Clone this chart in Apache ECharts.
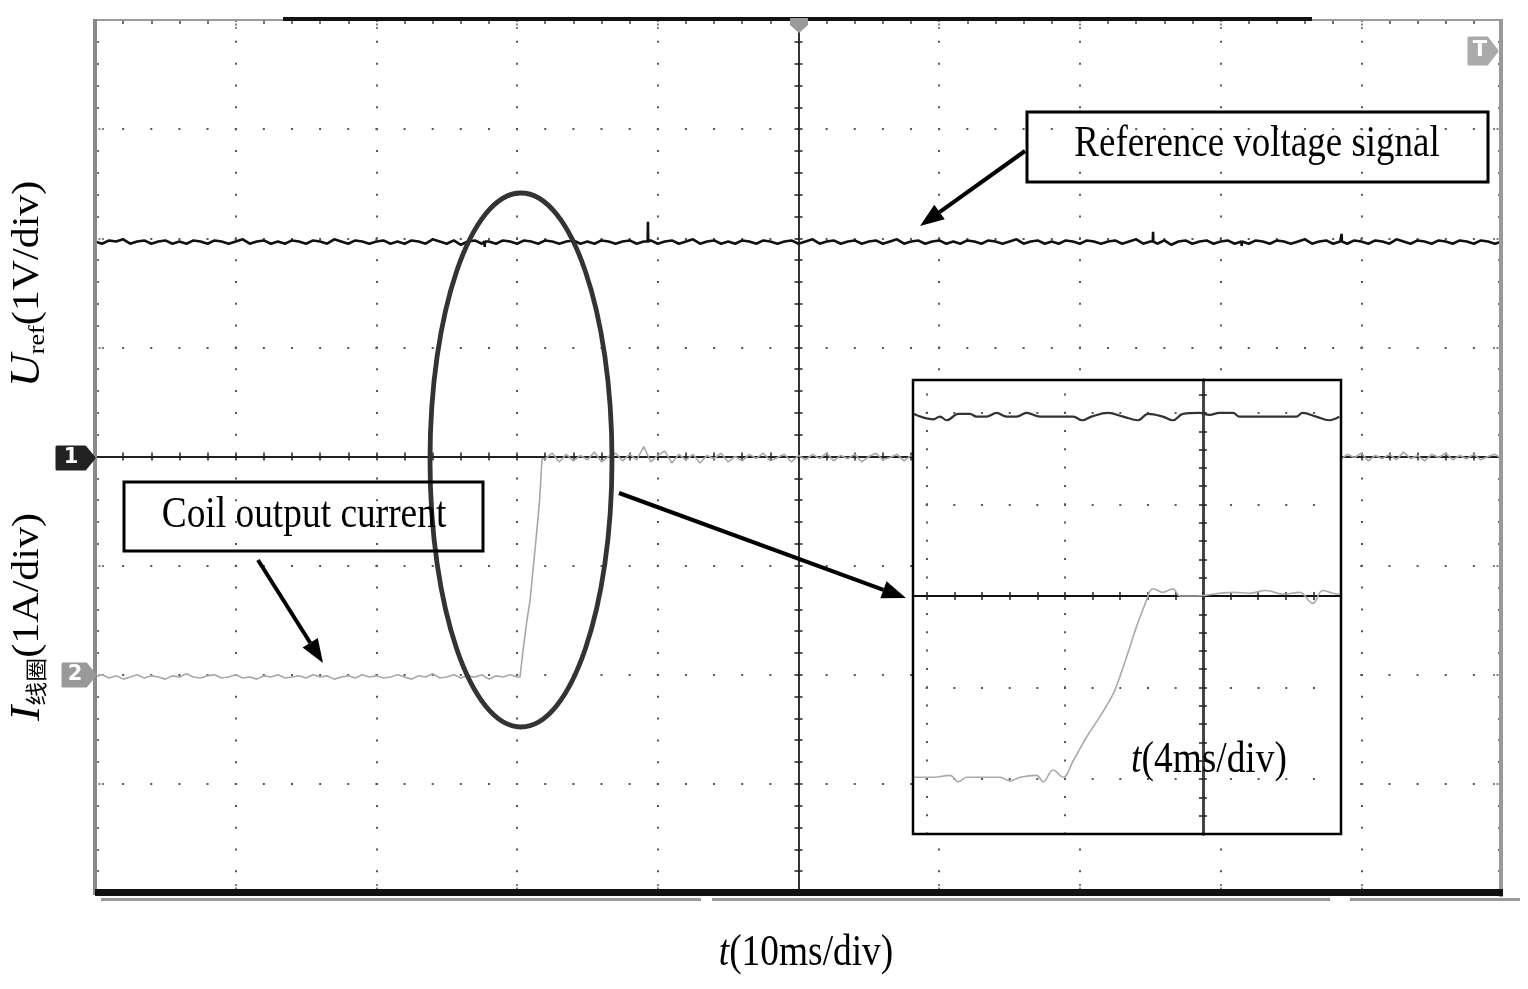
<!DOCTYPE html>
<html>
<head>
<meta charset="utf-8">
<title>Uref / I线圈</title>
<script src="https://cdn.jsdelivr.net/npm/echarts@6/dist/echarts.min.js"></script>
<style>
  html, body { margin: 0; padding: 0; background: #fff; }
  #scope { width: 1528px; height: 989px; }
</style>
</head>
<body>
<div id="scope"></div>
<script>
// 主时基 10ms/div, x 以触发点(屏幕中心)为 0, 单位 ms; y 单位 div
var mainT0 = -50, mainStep = 0.5;

// 通道1 参考电压 Uref (1V/div)
var refVolts = [
  1.97,1.95,1.98,1.97,1.99,1.95,1.97,1.98,1.95,1.97,
  1.98,1.95,1.97,1.95,1.98,1.97,1.95,1.98,1.97,1.95,
  1.97,1.99,1.95,1.97,1.98,1.95,1.97,1.95,1.98,1.97,
  1.95,1.98,1.97,1.95,1.99,1.97,1.95,1.98,1.97,1.95,
  1.97,1.98,1.95,1.97,1.95,1.98,1.97,1.95,1.99,1.97,
  1.95,1.98,1.94,1.97,1.98,1.95,1.97,1.95,1.98,1.97,
  1.95,1.98,1.97,1.95,1.98,1.97,1.95,1.97,1.98,1.95,
  1.97,1.95,1.98,1.97,1.95,1.97,1.98,1.95,1.97,1.98,
  1.95,1.97,1.98,1.95,1.97,1.99,1.95,1.97,1.98,1.95,
  1.97,1.95,1.98,1.97,1.95,1.98,1.97,1.95,1.97,1.98,
  1.95,1.97,1.99,1.95,1.97,1.98,1.95,1.97,1.98,1.95,
  1.97,1.98,1.95,1.97,1.99,1.95,1.97,1.98,1.95,1.97,
  1.98,1.95,1.97,1.95,1.98,1.97,1.95,1.98,1.97,1.95,
  1.97,1.99,1.95,1.97,1.98,1.95,1.97,1.95,1.98,1.97,
  1.95,1.98,1.97,1.95,1.97,1.98,1.95,1.97,1.99,1.95,
  1.97,1.95,1.98,1.94,1.97,1.98,1.95,1.97,1.98,1.95,
  1.97,1.98,1.95,1.97,1.95,1.98,1.97,1.95,1.98,1.97,
  1.95,1.97,1.99,1.95,1.97,1.98,1.95,1.97,1.95,1.98,
  1.97,1.95,1.98,1.97,1.95,1.99,1.97,1.95,1.98,1.97,
  1.95,1.98,1.97,1.95,1.98,1.97,1.95,1.98,1.97,1.95,
  1.97
];
// 尖峰
var refSpikes = [
  [-22.32,1.97],[-22.3,1.92],[-22.28,1.97],
  [-10.72,1.97],[-10.7,2.15],[-10.68,1.97],
  [25.18,1.97],[25.2,2.06],[25.22,1.97],
  [31.48,1.97],[31.5,1.93],[31.52,1.97],
  [38.58,1.97],[38.6,2.04],[38.62,1.97]
];

// 通道2 线圈电流 (1A/div), 零电流在 -2 div
var coilBefore = [
  -2.02,-2.00,-2.03,-2.01,-2.04,-2.02,-2.00,-2.03,-2.01,-2.02,
  -2.04,-2.01,-2.02,-1.99,-2.02,-2.03,-2.01,-2.00,-2.03,-2.02,
  -2.00,-2.03,-2.02,-2.04,-2.01,-2.02,-2.00,-2.03,-2.02,-2.01,
  -2.03,-2.00,-2.02,-2.01,-2.04,-2.02,-2.01,-2.03,-2.00,-2.02,
  -2.01,-2.03,-2.02,-2.00,-2.02,-2.04,-2.01,-2.02,-1.99,-2.03,
  -2.02,-2.00,-2.03,-2.01,-2.02,-2.00,-2.04,-2.01,-2.02,-2.00,
  -2.02
];
var coilRise = [[-19.79,-2.02],[-19.6,-1.8],[-19.3,-1.5],[-19.08,-1.32],[-18.8,-0.95],[-18.59,-0.67],[-18.4,-0.4],[-18.23,-0.02]];
var coilAfterT0 = -18;
var coilAfter = [
  -0.02,0.03,-0.05,0.02,-0.04,0.01,-0.03,0.04,-0.05,0.00,
  0.03,-0.04,0.02,-0.03,0.09,-0.05,0.01,0.05,-0.06,0.02,
  -0.03,0.02,-0.06,0.01,-0.02,0.03,-0.05,0.00,-0.04,0.02,
  -0.02,0.03,-0.04,-0.01,0.02,-0.05,0.01,-0.03,0.02,-0.02,
  0.03,-0.04,0.01,-0.02,0.02,-0.05,0.00,0.03,-0.03,-0.01,
  0.02,-0.04,0.01,-0.02,0.03,-0.03,0.00,0.02,-0.04,0.01,
  -0.02,0.03,-0.03,0.01,-0.04,0.02,-0.01,0.03,-0.03,0.00,
  0.02,-0.04,0.01,-0.02,0.03,-0.03,0.01,-0.01,0.02,-0.04,
  0.01,-0.02,0.03,-0.03,0.00,0.02,-0.04,0.01,-0.02,0.03,
  -0.03,0.01,-0.01,0.02,-0.04,0.02,-0.02,0.03,-0.03,0.00,
  0.02,-0.03,0.01,-0.02,0.03,-0.04,0.01,-0.01,0.02,-0.03,
  0.01,-0.02,0.03,-0.03,0.02,-0.01,0.03,-0.04,0.01,-0.02,
  0.02,-0.03,0.04,-0.02,0.01,-0.04,0.02,-0.01,0.03,-0.03,
  0.01,-0.02,0.02,-0.03,0.00,0.02,-0.02
];

// 放大窗口 4ms/div, x 以窗口中心竖线为 0
var zoomRef = [
  [-8.39,1.99],[-7.81,1.93],[-7.62,1.96],[-7.42,1.92],[-7.09,1.99],[-6.75,1.99],[-6.56,1.96],[-6.27,1.96],
  [-5.98,2.0],[-5.69,1.96],[-5.4,1.96],[-5.11,2.0],[-4.72,1.96],[-3.76,1.96],[-3.5,1.92],[-3.23,1.96],
  [-2.75,2.0],[-2.31,1.96],[-1.88,1.92],[-1.59,1.99],[-1.16,1.96],[-0.87,1.92],[-0.58,1.99],[-0.1,2.0],
  [0.19,1.98],[0.48,2.0],[0.87,2.0],[1.06,1.96],[2.7,1.96],[2.89,2.0],[3.28,1.96],[3.66,1.92],[3.95,1.96]
];
var zoomCoil = [
  [-8.39,-1.98],[-7.81,-1.98],[-7.33,-1.96],[-7.09,-2.03],[-6.84,-1.98],[-6.36,-1.98],[-5.88,-1.98],[-5.59,-2.02],
  [-5.3,-1.98],[-4.82,-1.96],[-4.63,-2.03],[-4.34,-1.9],[-4.05,-1.98],[-3.76,-1.8],[-3.37,-1.54],[-2.99,-1.32],
  [-2.6,-1.07],[-2.41,-0.885],[-2.12,-0.56],[-1.93,-0.34],[-1.64,-0.05],[-1.54,0.05],[-1.45,0.08],[-1.16,0.04],
  [-0.87,0.08],[-0.67,0.0],[-0.29,0.0],[0.87,0.04],[1.35,0.03],[1.83,0.06],[2.31,0.02],[2.8,0.04],
  [3.18,-0.08],[3.47,0.06],[3.76,0.03],[3.95,0.02]
];

function stepped(t0, vals) {
  return vals.map(function (v, i) { return [t0 + i * mainStep, v]; });
}
var refData = stepped(mainT0, refVolts).concat(refSpikes).sort(function (a, b) { return a[0] - b[0]; });
var coilData = stepped(mainT0, coilBefore).concat(coilRise, stepped(coilAfterT0, coilAfter));

var serif = '"Liberation Serif", "Times New Roman", "Noto Sans CJK SC", serif';
var noLabel = { show: false };

// 外框刻度 + 点状网格
function frameAxis(grid, pos, range, iv, split, dash, offset, z) {
  var ax = {
    type: 'value', gridIndex: grid, position: pos, min: range[0], max: range[1], z: z,
    axisLine: { show: false, onZero: false }, axisLabel: noLabel,
    axisTick: { show: grid === 0, inside: true, length: 9, lineStyle: { color: '#555', width: 1.5, type: [2, 1.5] } },
    minorTick: { show: grid === 0, splitNumber: 5, length: 4, lineStyle: { color: '#444', width: 1.5 } },
    splitLine: { show: split, lineStyle: { color: '#555', width: 2, type: dash, dashOffset: offset } }
  };
  if (grid === 0) { ax.interval = iv; } else { ax.minInterval = iv; ax.maxInterval = iv; }
  return ax;
}
// 中心实线 (onZero), 两根叠加得到十字刻度
function centerAxis(grid, pos, range, iv, other, inside, color, width, z) {
  var ax = {
    type: 'value', gridIndex: grid, position: pos, min: range[0], max: range[1], z: z,
    axisLine: { show: true, onZero: true, onZeroAxisIndex: other, lineStyle: { color: color, width: width } },
    axisTick: { show: true, inside: inside, length: 4, lineStyle: { color: '#222', width: 1.5 } },
    minorTick: { show: true, splitNumber: 5, length: 4, lineStyle: { color: '#222', width: 1.5 } },
    axisLabel: noLabel, splitLine: { show: false }
  };
  if (grid === 0) { ax.interval = iv; } else { ax.minInterval = iv; ax.maxInterval = iv; }
  return ax;
}

var mainX = [-50, 50], mainY = [-4, 4];
var zoomX = [-8.4, 4], zoomY = [-2.6, 2.36];

function arrow(x1, y1, x2, y2) {
  var a = Math.atan2(y2 - y1, x2 - x1), L = 24, W = 9;
  var bx = x2 - L * Math.cos(a), by = y2 - L * Math.sin(a);
  return [
    { type: 'line', z: 20, shape: { x1: x1, y1: y1, x2: bx, y2: by }, style: { stroke: '#000', lineWidth: 4 } },
    { type: 'polygon', z: 20, shape: { points: [[x2, y2], [bx + W * Math.sin(a), by - W * Math.cos(a)], [bx - W * Math.sin(a), by + W * Math.cos(a)]] }, style: { fill: '#000' } }
  ];
}
function tag(pts, color, label, cx, cy) {
  return [
    { type: 'polygon', z: 25, shape: { points: pts }, style: { fill: color, stroke: color, lineWidth: 3, lineJoin: 'round' } },
    { type: 'text', z: 26, x: cx, y: cy, style: { text: label, fill: '#fff', font: 'bold 21px "DejaVu Sans"', align: 'center', verticalAlign: 'middle', textAlign: 'center', textVerticalAlign: 'middle' } }
  ];
}
function serifText(x, y, text, rich, extra) {
  var el = { type: 'text', z: 21, x: x, y: y, style: { text: text, fill: '#000', align: 'center', verticalAlign: 'middle', textAlign: 'center', textVerticalAlign: 'middle', rich: rich, fontFamily: serif, fontSize: 44 } };
  for (var k in extra) el[k] = extra[k];
  return el;
}

var chart = echarts.init(document.getElementById('scope'));
var option = {
  animation: false,
  backgroundColor: '#fff',
  grid: [
    { left: 95, top: 20, width: 1407, height: 873, outerBoundsMode: 'none' },
    { left: 913, top: 380, width: 428, height: 454, outerBoundsMode: 'none' }
  ],
  xAxis: [
    frameAxis(0, 'bottom', mainX, 10, true, [2, 19.83], 1, 0),
    frameAxis(0, 'top', mainX, 10, false, null, 0, 0),
    centerAxis(0, 'bottom', mainX, 10, 0, false, '#222', 2, 1),
    centerAxis(0, 'bottom', mainX, 10, 0, true, '#222', 2, 1),
    frameAxis(1, 'bottom', zoomX, 4, true, [2, 16.3], 4.9, 11),
    centerAxis(1, 'bottom', zoomX, 4, 4, false, '#111', 2, 11),
    centerAxis(1, 'bottom', zoomX, 4, 4, true, '#111', 2, 11)
  ],
  yAxis: [
    frameAxis(0, 'left', mainY, 1, true, [2, 26.14], 1, 0),
    frameAxis(0, 'right', mainY, 1, false, null, 0, 0),
    centerAxis(0, 'left', mainY, 1, 0, false, '#333', 2, 1),
    centerAxis(0, 'left', mainY, 1, 0, true, '#333', 2, 1),
    frameAxis(1, 'left', zoomY, 1, true, [2, 25.66], 14.96, 11),
    centerAxis(1, 'left', zoomY, 1, 4, false, '#444', 3, 11),
    centerAxis(1, 'left', zoomY, 1, 4, true, '#444', 3, 11)
  ],
  series: [
    { name: 'Uref', type: 'line', xAxisIndex: 0, yAxisIndex: 0, z: 3, showSymbol: false, data: refData,
      lineStyle: { color: '#111', width: 2.6 } },
    { name: 'I线圈', type: 'line', xAxisIndex: 0, yAxisIndex: 0, z: 2, showSymbol: false, data: coilData,
      lineStyle: { color: '#a8a8a8', width: 1.6 } },
    { name: 'Uref 放大', type: 'line', xAxisIndex: 4, yAxisIndex: 4, z: 12, showSymbol: false, smooth: 0.4, data: zoomRef,
      lineStyle: { color: '#333', width: 2.2 } },
    { name: 'I线圈 放大', type: 'line', xAxisIndex: 4, yAxisIndex: 4, z: 12, showSymbol: false, smooth: 0.4, data: zoomCoil,
      lineStyle: { color: '#aaa', width: 1.6 } }
  ],
  graphic: { elements: [].concat(
    // 屏幕边框
    [
      { type: 'rect', z: 5, shape: { x: 95, y: 19, width: 1407, height: 2 }, style: { fill: '#9a9a9a' } },
      { type: 'rect', z: 5, shape: { x: 283, y: 17, width: 1029, height: 4 }, style: { fill: '#111' } },
      { type: 'rect', z: 5, shape: { x: 93, y: 19, width: 4, height: 876 }, style: { fill: '#8a8a8a' } },
      { type: 'rect', z: 5, shape: { x: 1499, y: 19, width: 4, height: 878 }, style: { fill: '#999' } },
      { type: 'rect', z: 5, shape: { x: 95, y: 889, width: 1408, height: 7 }, style: { fill: '#111' } },
      { type: 'rect', z: 5, shape: { x: 101, y: 898, width: 600, height: 3 }, style: { fill: '#9a9a9a' } },
      { type: 'rect', z: 5, shape: { x: 712, y: 898, width: 618, height: 3 }, style: { fill: '#9a9a9a' } },
      { type: 'rect', z: 5, shape: { x: 1350, y: 898, width: 170, height: 3 }, style: { fill: '#9a9a9a' } },
      { type: 'polygon', z: 6, shape: { points: [[790, 18], [808, 18], [808, 25], [799, 33], [790, 25]] }, style: { fill: '#9a9a9a' } }
    ],
    tag([[57, 447], [85, 447], [94, 458], [85, 469], [57, 469]], '#222', '1', 71, 458),
    tag([[63, 664], [86, 664], [95, 675], [86, 686], [63, 686]], '#999', '2', 75, 675),
    tag([[1469, 38], [1487, 38], [1497, 51], [1487, 64], [1469, 64]], '#aaa', 'T', 1480, 51),
    // 放大窗口底色与边框
    [
      { type: 'rect', z: 10, shape: { x: 913, y: 380, width: 428, height: 454 }, style: { fill: '#fff' } },
      { type: 'rect', z: 13, shape: { x: 913, y: 380, width: 428, height: 454 }, style: { fill: 'none', stroke: '#000', lineWidth: 2.5 } }
    ],
    // 标注
    [
      { type: 'ellipse', z: 20, shape: { cx: 521, cy: 460, rx: 91, ry: 267 }, style: { fill: 'none', stroke: '#333', lineWidth: 4.8 } },
      { type: 'rect', z: 20, shape: { x: 1027, y: 112, width: 461, height: 70 }, style: { fill: 'none', stroke: '#000', lineWidth: 3 } },
      { type: 'rect', z: 20, shape: { x: 124, y: 482, width: 359, height: 69 }, style: { fill: 'none', stroke: '#000', lineWidth: 3 } }
    ],
    arrow(1025, 151, 920, 226),
    arrow(258, 560, 323, 663),
    arrow(619, 493, 906, 598),
    [
      serifText(1257, 144, 'Reference voltage signal', null, { scaleX: 0.84 }),
      serifText(304, 515, 'Coil output current', null, { scaleX: 0.85 }),
      serifText(806, 953, '{i|t}{n|(10ms/div)}', {
        i: { fontSize: 44, fontStyle: 'italic', fontFamily: serif },
        n: { fontSize: 44, fontFamily: serif } }, { scaleX: 0.85 }),
      serifText(1209, 760, '{i|t}{n|(4ms/div)}', {
        i: { fontSize: 44, fontStyle: 'italic', fontFamily: serif },
        n: { fontSize: 44, fontFamily: serif } }, { scaleX: 0.85 }),
      serifText(28, 284, '{u|U}{s|ref}{n|(1V/div)}', {
        u: { fontSize: 46, fontStyle: 'italic', fontFamily: serif, lineHeight: 48 },
        s: { fontSize: 26, fontFamily: serif, lineHeight: 26, verticalAlign: 'bottom' },
        n: { fontSize: 42, fontFamily: serif, lineHeight: 48 } }, { rotation: Math.PI / 2, scaleY: 0.9 }),
      serifText(28, 617, '{u|I}{s|线圈}{n|(1A/div)}', {
        u: { fontSize: 46, fontStyle: 'italic', fontFamily: serif, lineHeight: 48 },
        s: { fontSize: 24, fontFamily: serif, lineHeight: 26, verticalAlign: 'bottom' },
        n: { fontSize: 42, fontFamily: serif, lineHeight: 48 } }, { rotation: Math.PI / 2, scaleY: 0.9 })
    ]
  ) }
};
chart.setOption(option);
</script>
</body>
</html>
